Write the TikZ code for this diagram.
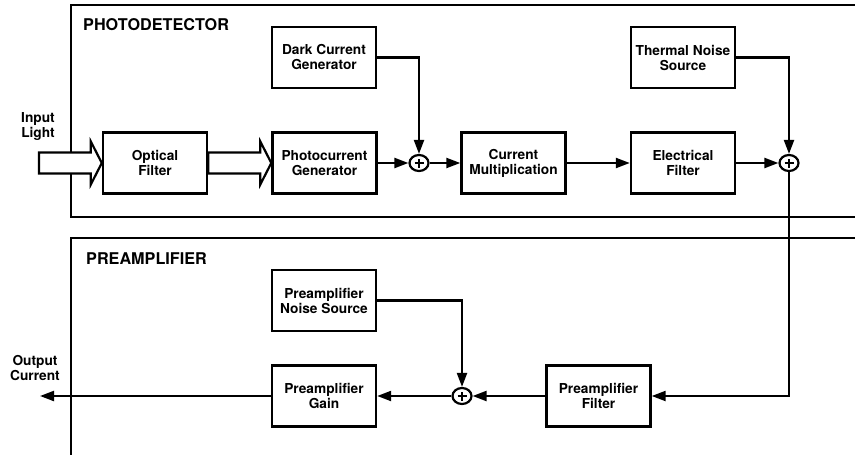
\documentclass[tikz,border=0pt]{standalone}
\usepackage{fontspec}
\setmainfont{TeX Gyre Heros}
\usetikzlibrary{arrows.meta,calc,shapes.geometric}

\begin{document}
\begin{tikzpicture}[x=1pt, y=-1pt,
        box/.style={draw, line width=2.4pt, minimum width=104pt, minimum height=61pt, inner sep=1pt, align=center, font=\fontsize{13.7}{15}\selectfont\bfseries},
        sum/.style={draw, ellipse, line width=2.2pt, minimum width=19pt, minimum height=16pt, inner sep=0pt,
            path picture={\draw[line width=2.2pt] ([xshift=-4.5pt]path picture bounding box.center) -- ([xshift=4.5pt]path picture bounding box.center)
                ([yshift=-4.5pt]path picture bounding box.center) -- ([yshift=4.5pt]path picture bounding box.center);}},
        tag/.style={align=center, inner sep=0pt, font=\fontsize{13.7}{15}\selectfont\bfseries},
        title/.style={anchor=west, inner sep=0pt, font=\fontsize{16.2}{18}\selectfont\bfseries},
        frame/.style={line width=2pt},
        arr/.style={line width=2.2pt, -{Triangle[length=14pt, width=10pt]}},
        light/.style={draw, fill=white, line width=2.2pt}]
        \useasboundingbox (0,0) rectangle (855,455);

        % Рамки блоков
        \draw[frame] (855,5) -- (71,5) -- (71,217) -- (855,217);
        \draw[frame] (855,238) -- (71,238) -- (71,455);
        \node[title] (pdtitle) at (83,25) {PHOTODETECTOR};
        \node[title] (patitle) at (86,258.5) {PREAMPLIFIER};

        % Фотодетектор
        \node[box] (dark) at (324,57.5) {Dark Current\\Generator};
        \node[box] (optf) at (155,163) {Optical\\Filter};
        \node[box] (photo) at (324.5,163) {Photocurrent\\Generator};
        \node[sum] (sum1) at (419,163) {};
        \node[box] (curmul) at (513.5,163) {Current\\Multiplication};
        \node[box] (efilt) at (683,163) {Electrical\\Filter};
        \node[box] (thermal) at (683,57.5) {Thermal Noise\\Source};
        \node[sum] (sum2) at (789,163) {};

        % Предусилитель
        \node[box] (pnoise) at (324,300.5) {Preamplifier\\Noise Source};
        \node[box] (gain) at (324,396) {Preamplifier\\Gain};
        \node[sum] (sum3) at (462,396) {};
        \node[box] (pfilt) at (598.5,396) {Preamplifier\\Filter};

        % Входной свет
        \node[tag] (inlight) at (38,126) {Input\\Light};
        \coordinate (lightin) at (39,163);
        \filldraw[light] ($(lightin)+(0,-10.5)$) -- ($(optf.west)+(-11,-10.5)$) -- ($(optf.west)+(-11,-21.5)$) -- (optf.west)
            -- ($(optf.west)+(-11,21.5)$) -- ($(optf.west)+(-11,10.5)$) -- ($(lightin)+(0,10.5)$) -- cycle;
        \filldraw[light] ($(optf.east)+(0,-10.5)$) -- ($(photo.west)+(-11,-10.5)$) -- ($(photo.west)+(-11,-21.5)$) -- (photo.west)
            -- ($(photo.west)+(-11,21.5)$) -- ($(photo.west)+(-11,10.5)$) -- ($(optf.east)+(0,10.5)$) -- cycle;

        % Соединения
        \draw[arr] (photo) -- (sum1);
        \draw[arr] (dark.east) -| (sum1);
        \draw[arr] (sum1) -- (curmul);
        \draw[arr] (curmul) -- (efilt);
        \draw[arr] (efilt) -- (sum2);
        \draw[arr] (thermal.east) -| (sum2);
        \draw[arr] (sum2) |- (pfilt);
        \draw[arr] (pfilt) -- (sum3);
        \draw[arr] (pnoise.east) -| (sum3);
        \draw[arr] (sum3) -- (gain);

        % Выходной ток
        \node[tag] (outcur) at (35,368) {Output\\Current};
        \coordinate (outc) at (40,396);
        \draw[arr] (gain) -- (outc);
\end{tikzpicture}
\end{document}
